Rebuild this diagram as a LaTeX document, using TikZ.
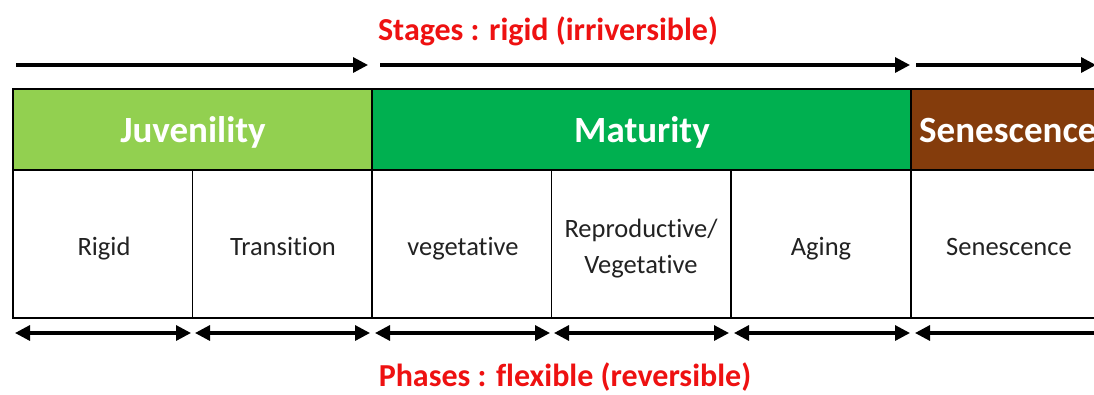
\documentclass[tikz,border=0pt]{standalone}
\usepackage{fontspec}
\setmainfont{Carlito}[Ligatures=NoCommon]
\usetikzlibrary{arrows.meta}
\definecolor{juvgreen}{HTML}{92D050}
\definecolor{matgreen}{HTML}{00B050}
\definecolor{senbrown}{HTML}{843C0C}
\definecolor{labelred}{HTML}{EE1111}
\definecolor{celltext}{HTML}{222222}
\begin{document}
\begin{tikzpicture}[x=1pt,y=-1pt,
  stagebox/.style={draw=black,line width=1.2pt,inner sep=0pt,outer sep=0pt,
    minimum height=81pt,anchor=north west},
  stagetext/.style={anchor=base,inner sep=0pt,text=white,
    font=\fontsize{37}{40}\selectfont\bfseries},
  phasebox/.style={draw=black,line width=1.2pt,inner sep=0pt,outer sep=0pt,
    minimum height=148pt,minimum width=179.5pt,anchor=north west},
  phasetext/.style={anchor=base,inner sep=0pt,text=celltext,
    font=\fontsize{26.5}{37}\selectfont},
  redlabel/.style={anchor=base,inner sep=0pt,text=labelred,
    font=\fontsize{32}{36}\selectfont\bfseries},
  tip/.tip={Triangle[length=15pt,width=15pt]},
  onearrow/.style={line width=3.2pt,-tip},
  twoarrow/.style={line width=3.2pt,tip-tip}]
\clip (0,0) rectangle (1094,394);
\fill[white] (0,0) rectangle (1094,394);

% stage header row
\node[stagebox,fill=juvgreen,minimum width=359pt] (juv) at (13,89) {};
\node[stagebox,fill=matgreen,minimum width=539pt] (mat) at (372,89) {};
\node[stagebox,fill=senbrown,minimum width=200pt] (sen) at (911,89) {};
\node[stagetext] (juvtext) at (193,142) {Juvenility};
\node[stagetext] (mattext) at (642,142) {Maturity};
\node[stagetext,anchor=base west] (sentext) at (919,142) {Senescence};

% phase row
\node[phasebox] (rigid) at (13,170) {};
\node[phasebox] (trans) at (192.5,170) {};
\node[phasebox] (veg) at (372,170) {};
\node[phasebox] (repro) at (551.5,170) {};
\node[phasebox] (aging) at (731,170) {};
\node[phasebox,minimum width=196pt] (senph) at (911,170) {};
\node[phasetext] (rigidtext) at (104,255) {Rigid};
\node[phasetext] (transtext) at (283,255) {Transition};
\node[phasetext] (vegtext) at (463,255) {vegetative};
\node[phasetext] (reprotext) at (641,237) {Reproductive/};
\node[phasetext] (reprotextb) at (641,273) {Vegetative};
\node[phasetext] (agingtext) at (821,255) {Aging};
\node[phasetext] (senphtext) at (1009,255) {Senescence};

% stage arrows
\coordinate (s0) at (16,65);
\coordinate (s1) at (368,65);
\coordinate (s2) at (380,65);
\coordinate (s3) at (910,65);
\coordinate (s4) at (916,65);
\coordinate (s5) at (1096,65);
\draw[onearrow] (s0) -- (s1);
\draw[onearrow] (s2) -- (s3);
\draw[onearrow] (s4) -- (s5);

% phase arrows
\coordinate (p0a) at (15,333);   \coordinate (p0b) at (191,333);
\coordinate (p1a) at (195,333);  \coordinate (p1b) at (370,333);
\coordinate (p2a) at (375,333);  \coordinate (p2b) at (550,333);
\coordinate (p3a) at (554,333);  \coordinate (p3b) at (729,333);
\coordinate (p4a) at (734,333);  \coordinate (p4b) at (910,333);
\coordinate (p5a) at (915,333);  \coordinate (p5b) at (1110,333);
\draw[twoarrow] (p0a) -- (p0b);
\draw[twoarrow] (p1a) -- (p1b);
\draw[twoarrow] (p2a) -- (p2b);
\draw[twoarrow] (p3a) -- (p3b);
\draw[twoarrow] (p4a) -- (p4b);
\draw[twoarrow] (p5a) -- (p5b);

% titles
\node[redlabel] (stages) at (548,40) {Stages : rigid (irriversible)};
\node[redlabel] (phases) at (565,386) {Phases : flexible (reversible)};
\end{tikzpicture}
\end{document}
